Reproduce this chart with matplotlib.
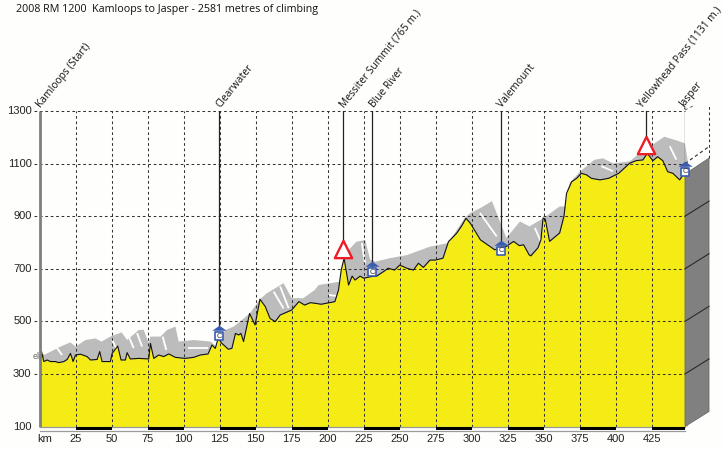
import matplotlib
matplotlib.use("Agg")
import matplotlib.pyplot as plt
from matplotlib.transforms import IdentityTransform

plt.rcParams['font.family'] = ['Open Sans', 'DejaVu Sans']

TITLE = "2008 RM 1200  Kamloops to Jasper - 2581 metres of climbing"

profile_km = [0, 0.7, 1.4, 3, 5.3, 7.6, 11, 13.4, 16.9, 19.2, 21.5, 23.3, 25, 28.4, 33, 35.4, 40, 41.8, 43.4, 49.2,
              50.4, 54.3, 56.6, 59.6, 60.8, 63, 68.9, 75.8, 77, 79.3, 82.7, 86.2, 89.7, 94.3, 101, 107, 111.6, 117,
              119.7, 122, 124, 126.6, 129, 131, 133.5, 136, 138.2, 139.8, 141.6, 145.8, 149.6, 153, 156.7, 160,
              163.6, 167, 175, 180, 184, 188, 192, 195.5, 205, 207.5, 209.4, 211.4, 214.5, 217, 219, 222.5, 225,
              230, 234, 238.7, 242, 246.4, 250, 254.9, 259.5, 263, 266.4, 271, 274.5, 280, 283.8, 289.5, 293, 296,
              299, 306, 316, 324, 329, 333, 336, 339.8, 341, 346, 348, 349.5, 351, 354, 361, 364, 365.8, 369.3,
              372.8, 376, 379.7, 383, 389, 395, 402, 409.5, 414, 418.8, 421.8, 425.7, 429, 432.6, 436, 439.6,
              444.3, 448]
profile_elev = [342, 353, 385, 347, 353, 347, 347, 343, 347, 355, 378, 347, 372, 375, 366, 353, 355, 385, 347, 347,
                378, 406, 353, 353, 381, 357, 359, 357, 416, 359, 372, 366, 376, 363, 359, 363, 372, 376,
                410, 397, 435, 416, 404, 394, 397, 454, 448, 454, 423, 530, 486, 584, 556, 511,
                499, 524, 543, 575, 562, 571, 568, 565, 575, 619, 695, 740, 638, 672, 657, 672, 664,
                670, 672, 689, 702, 695, 714, 702, 695, 721, 705, 733, 733, 740, 803, 835, 863, 892,
                873, 810, 772, 785, 804, 788, 791, 753, 749, 780, 810, 893, 889, 804, 836, 900, 987, 1031,
                1044, 1063, 1057, 1044, 1038, 1044, 1063, 1101, 1111, 1114, 1139, 1111, 1126, 1111, 1069, 1063,
                1038, 1069]

shadow_km = [0.7, 5.3, 10, 14.6, 21.5, 25, 32, 38.8, 43, 49.2, 57, 60.8, 68.9, 72.3, 75.8, 77, 84, 88.5, 94.3, 96.6,
             107, 118.7, 123, 125.5, 129, 134.8, 146, 153, 157.8, 169.4, 175, 183, 191, 193.7, 208.7, 209.5, 212,
             215.6, 220, 226, 229.5, 233, 243, 255, 271, 283, 286, 295, 299, 306, 314, 320, 324, 333.5, 340, 350,
             361, 365, 368, 375, 385, 391, 398, 409.5, 417.6, 427, 433.6, 441, 448, 450.1]
shadow_elev = [364, 378, 391, 404, 420, 404, 429, 435, 423, 442, 458, 429, 467, 468, 417, 442, 442, 467, 480, 423,
               429, 423, 404, 436, 467, 480, 530, 584, 607, 645, 588, 588, 619, 638, 651, 695, 745,
               778, 803, 809, 735, 727, 740, 752, 784, 797, 817, 893, 912, 931, 957, 874, 817, 880, 861, 893,
               937, 937, 1026, 1069, 1114, 1120, 1101, 1108, 1145, 1177, 1202, 1190, 1177, 1101]

streak_km = [(12.2, 15.7), (50.4, 53.8), (62, 65.4), (67.7, 71.2), (85.5, 88), (103, 117), (162.5, 169.4),
             (167, 172.9), (200.6, 206), (223.7, 226), (305.7, 317.3), (343.8, 348.5), (437.4, 442), (390, 398)]
streak_elev = [(398, 372), (430, 391), (442, 398), (455, 404), (442, 391), (398, 398), (613, 549), (633, 550),
               (600, 597), (798, 720), (912, 823), (855, 798), (1166, 1115), (1090, 1071)]

places = ["Kamloops (Start)", "Clearwater", "Messiter Summit (765 m.)", "Blue River", "Valemount",
          "Yellowhead Pass (1131 m.)", "Jasper"]
place_km = [0, 124.5, 210.7, 231, 320.5, 421, 448]
line_bottoms = [1300, 470, 795, 700, 790, 1195, 1090]
label_shift = [3.5, 3.5, 3.5, 3.5, 3.5, -1.5, 1.5]
summit_km = [210.7, 421]
summit_elev = [776, 1172]
control_km = [124.5, 231, 320.5, 448]
control_elev = [443, 687, 768, 1068]

km_ticks = list(range(25, 426, 25))
elev_ticks = [100, 300, 500, 700, 900, 1100, 1300]
KM_END = 448
WALL_TOP = 1060

BG = '#fefefc'
fig = plt.figure(figsize=(7.24, 4.5), dpi=100, facecolor=BG)
ax = fig.add_axes([39.5 / 724, (450 - 426.5) / 450, (685 - 39.5) / 724, (426.5 - 111) / 450])
ax.set_xlim(0, KM_END)
ax.set_ylim(100, 1300)
ax.patch.set_alpha(0)
for s in ax.spines.values():
    s.set_visible(False)
ax.set_xticks([])
ax.set_yticks([])

# shadow band, then the streaks cut into it, then the yellow profile
ax.fill(shadow_km + [450.1, 0.7], shadow_elev + [100, 100], color='#bcbcbc', lw=0, zorder=1, clip_on=False)
for k, e in zip(streak_km, streak_elev):
    ax.plot(k, e, color='white', lw=1.3, zorder=1.5, solid_capstyle='butt')
ax.fill_between(profile_km, profile_elev, 100, color='#f5ec16', lw=0, zorder=2)
ax.plot(profile_km, profile_elev, color='#111111', lw=0.8, zorder=5)

# grid
dash = dict(color='#333333', lw=0.75, dashes=(2.6, 2.6), zorder=3)
for v in elev_ticks[1:]:
    ax.plot([-3.5, KM_END], [v, v], clip_on=False, **dash)
for k in km_ticks:
    ax.plot([k, k], [100, 1300], **dash)

# 3D wall on the right
ident = IdentityTransform()
corner = ax.transData.transform
x0, y0 = corner((KM_END, 100))
x1, y1 = corner((KM_END, WALL_TOP))
ax.add_patch(plt.Polygon([(x0, y0), (x1, y1), (x1 + 24, y1 + 16), (x1 + 24, y0 + 15)], closed=True,
                         transform=ident, facecolor='#808080', edgecolor='#6a6a6a', lw=0.6, zorder=4,
                         clip_on=False))
for v in elev_ticks[1:-1]:
    xa, ya = corner((KM_END, v))
    style = dict(color='#2a2a2a', lw=0.8, zorder=4.5, transform=ident, clip_on=False)
    if v <= 900:
        ax.add_line(plt.Line2D([xa, xa + 24], [ya, ya + 15], **style))
    else:
        ax.add_line(plt.Line2D([xa, xa + 24], [ya, ya + 17], dashes=(3, 2.5), **style))
xt, yt = corner((KM_END, 1300))
ax.add_line(plt.Line2D([xt + 24, xt + 24], [y1 + 16, yt + 6], color='#333333', lw=0.75, dashes=(2.6, 2.6),
                       transform=ident, clip_on=False, zorder=4))
ax.add_line(plt.Line2D([xt, xt + 10], [yt + 1, yt + 6], color='#666666', lw=0.7, dashes=(3, 3),
                       transform=ident, clip_on=False, zorder=4))

# left axis
ax.plot([0, 0], [100, 1300], color='#7f7f7f', lw=2, zorder=6, clip_on=False, solid_capstyle='butt')

# km bar
trx = ax.get_xaxis_transform()
for level in (0, -0.0135):
    ax.plot([0, KM_END], [level, level], transform=trx, color='#9a9a9a', lw=0.9, clip_on=False, zorder=6)
for k in km_ticks[::2]:
    end = min(k + 25, KM_END)
    ax.fill([k, end, end, k], [0, 0, -0.0125, -0.0125], transform=trx, color='black', lw=0, clip_on=False, zorder=7)

# tick labels
lab = dict(fontfamily='Liberation Sans', fontsize=8, color='#222222')
for k in km_ticks:
    ax.annotate(str(k), (k, 100), xytext=(0, -12), textcoords='offset pixels', ha='center', va='center', **lab)
ax.annotate('km', (0, 100), xytext=(5.5, -12), textcoords='offset pixels', ha='center', va='center', **lab)
for v in elev_ticks:
    ax.annotate(str(v), (0, v), xytext=(-8, 0), textcoords='offset pixels', ha='right', va='center', **lab)
ax.annotate('elg', (0, 350), xytext=(-1, 4), textcoords='offset pixels', ha='center', va='center',
            fontsize=6.5, color='#666666', zorder=1.2, fontfamily='Liberation Sans')

# place labels and their lines
for name, k, b, dx in zip(places, place_km, line_bottoms, label_shift):
    ax.annotate(name, (k, 1300), xytext=(dx, 1), textcoords='offset pixels', rotation=51,
                rotation_mode='anchor', ha='left', va='bottom', fontsize=7.4, color='#111111',
                annotation_clip=False)
    if b < 1300:
        ax.plot([k, k], [b, 1300], color='#222222', lw=0.9, zorder=6)

# summit and control markers
ax.scatter(summit_km, summit_elev, marker='^', s=155, facecolor='white', edgecolor='#ee1c25', lw=1.7, zorder=8,
           clip_on=False)
roof = [(-1, -0.32), (1, -0.32), (0, 0.4), (-1, -0.32)]
ax.scatter(control_km, [e + 30 for e in control_elev], marker=roof, s=105, color='#3a5cb0', lw=0, zorder=8,
           clip_on=False)
ax.scatter(control_km, control_elev, marker='s', s=40, facecolor='white', edgecolor='#3a5cb0', lw=1.2, zorder=9,
           clip_on=False)
for k, e in zip(control_km, control_elev):
    ax.text(k, e, 'C', ha='center', va='center', fontsize=5.5, color='#333333', zorder=10,
            fontfamily='Liberation Sans', clip_on=False)

fig.text(16 / 724, 1 - 9.5 / 450, TITLE, fontsize=7.75, color='#111111', ha='left', va='center')
fig.savefig('out.png', dpi=100, facecolor=BG)
